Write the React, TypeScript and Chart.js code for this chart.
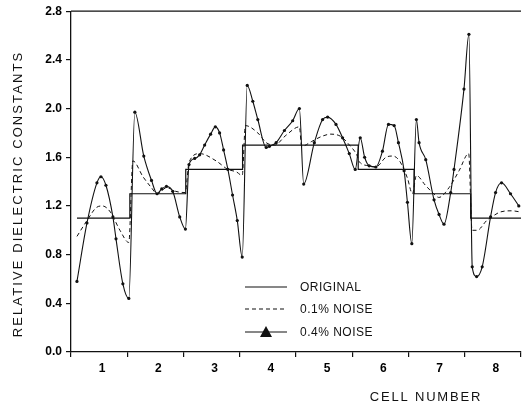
import { useEffect, useRef } from 'react';
import { Chart, registerables } from 'chart.js';

Chart.register(...registerables);

// ---- data ----
const cellLabels = ['1', '2', '3', '4', '5', '6', '7', '8'];
const cellBounds = [0.106, 1.046, 2.04, 3.05, 4.06, 5.106, 6.1, 7.105, 8.0];
const originalValues = [1.1, 1.3, 1.5, 1.7, 1.7, 1.5, 1.3, 1.1];

const noise01X = [
  0.106, 0.284, 0.461, 0.56, 0.7, 0.87, 1.028,
  1.1, 1.28, 1.43, 1.53, 1.7, 1.86, 2.03,
  2.1, 2.29, 2.58, 2.79, 2.94, 3.044,
  3.1, 3.321, 3.47, 3.62, 3.82, 4.06,
  4.1, 4.28, 4.45, 4.62, 4.8, 4.95, 5.08,
  5.13, 5.3, 5.42, 5.6, 5.72, 5.84, 5.98, 6.07,
  6.14, 6.3, 6.45, 6.54, 6.72, 6.9, 7.07,
  7.13, 7.22, 7.39, 7.48, 7.63, 7.83, 8.0,
];
const noise01Y = [
  0.95, 1.08, 1.19, 1.2, 1.15, 1.0, 0.9,
  1.57, 1.44, 1.35, 1.3, 1.35, 1.32, 1.31,
  1.56, 1.63, 1.57, 1.5, 1.48, 1.45,
  1.86, 1.8, 1.72, 1.7, 1.78, 1.85,
  1.69, 1.73, 1.77, 1.79, 1.77, 1.7, 1.62,
  1.56, 1.53, 1.52, 1.6, 1.61, 1.57, 1.43, 1.3,
  1.45, 1.37, 1.3, 1.27, 1.35, 1.49, 1.63,
  1.0, 1.0, 1.08, 1.11, 1.15, 1.16, 1.15,
];

const noise04X = [
  0.106, 0.284, 0.461, 0.532, 0.621, 0.745, 0.8, 0.922, 1.028,
  1.135, 1.294, 1.431, 1.53, 1.613, 1.697, 1.809, 1.933, 2.034,
  2.098, 2.199, 2.287, 2.376, 2.482, 2.566, 2.642, 2.713, 2.789, 2.872, 2.956, 3.044,
  3.133, 3.232, 3.321, 3.47, 3.528, 3.647, 3.794, 3.941, 4.06,
  4.137, 4.326, 4.473, 4.562, 4.711, 4.828, 4.947, 5.053,
  5.142, 5.22, 5.301, 5.42, 5.537, 5.644, 5.745, 5.821, 5.922, 5.981, 6.059,
  6.14, 6.188, 6.307, 6.454, 6.543, 6.631, 6.75, 6.809, 6.986, 7.074,
  7.133, 7.211, 7.31, 7.459, 7.548, 7.654, 7.814, 7.961,
];
const noise04Y = [
  0.58, 1.06, 1.39, 1.44, 1.37, 1.11, 0.93, 0.56, 0.44,
  1.97, 1.61, 1.41, 1.3, 1.34, 1.36, 1.32, 1.11, 1.01,
  1.54, 1.59, 1.62, 1.7, 1.79, 1.85, 1.8, 1.66, 1.5, 1.29, 1.08, 0.78,
  2.19, 2.06, 1.91, 1.68, 1.69, 1.72, 1.82, 1.9, 2.0,
  1.38, 1.72, 1.91, 1.93, 1.87, 1.76, 1.63, 1.5,
  1.76, 1.6, 1.53, 1.52, 1.65, 1.87, 1.86, 1.72, 1.49, 1.23, 0.89,
  1.91, 1.72, 1.58, 1.25, 1.13, 1.05, 1.31, 1.5, 2.16, 2.61,
  0.7, 0.62, 0.7, 1.11, 1.31, 1.39, 1.3, 1.2,
];

const yTicks = [0, 0.4, 0.8, 1.2, 1.6, 2.0, 2.4, 2.8];
const seriesLabels = ['ORIGINAL', '0.1% NOISE', '0.4% NOISE'];
const xTitle = 'CELL NUMBER';
const yTitle = 'RELATIVE DIELECTRIC CONSTANTS';

const INK = '#111';
const FONT = '"Liberation Sans", Arial, sans-serif';

const overlayPlugin = {
  id: 'overlay',
  afterDraw(chart: any) {
    const { ctx, chartArea } = chart;
    const { left, right, top, bottom } = chartArea;
    ctx.save();
    // top frame line
    ctx.strokeStyle = INK;
    ctx.lineWidth = 1.3;
    ctx.beginPath();
    ctx.moveTo(left, top);
    ctx.lineTo(right, top);
    ctx.stroke();

    // legend
    const rows = [bottom - 65, bottom - 43, bottom - 20];
    const x0 = left + 174;
    const x1 = left + 216;
    const tx = left + 229;
    ctx.font = `12px ${FONT}`;
    ctx.fillStyle = INK;
    ctx.textBaseline = 'middle';
    ctx.textAlign = 'left';
    (ctx as any).letterSpacing = '0.5px';
    rows.forEach((ry, i) => {
      ctx.beginPath();
      ctx.lineWidth = 1.1;
      ctx.setLineDash(i === 1 ? [4, 3] : []);
      ctx.moveTo(x0, ry);
      ctx.lineTo(x1, ry);
      ctx.stroke();
      ctx.setLineDash([]);
      if (i === 2) {
        const cx = (x0 + x1) / 2;
        ctx.beginPath();
        ctx.moveTo(cx, ry - 6);
        ctx.lineTo(cx + 6, ry + 5);
        ctx.lineTo(cx - 6, ry + 5);
        ctx.closePath();
        ctx.fill();
      }
      ctx.fillText(seriesLabels[i], tx, ry + 1);
    });

    // axis titles
    ctx.font = `13px ${FONT}`;
    (ctx as any).letterSpacing = '1.8px';
    ctx.textAlign = 'center';
    ctx.fillText(xTitle, left + 355, bottom + 45);
    ctx.save();
    ctx.translate(18, 194);
    ctx.rotate(-Math.PI / 2);
    (ctx as any).letterSpacing = '2.1px';
    ctx.fillText(yTitle, 0, 0);
    ctx.restore();
    ctx.restore();
  },
};

export default function App() {
  const canvasRef = useRef<HTMLCanvasElement | null>(null);

  useEffect(() => {
    if (!canvasRef.current) return;
    const originalPts: { x: number; y: number }[] = [];
    originalValues.forEach((v, i) => {
      originalPts.push({ x: cellBounds[i], y: v });
      originalPts.push({ x: cellBounds[i + 1], y: v });
    });
    const n01 = noise01X.map((x, i) => ({ x, y: noise01Y[i] }));
    const n04 = noise04X.map((x, i) => ({ x, y: noise04Y[i] }));

    const xTickValues: number[] = [];
    for (let i = 0; i <= 16; i++) xTickValues.push(i / 2);

    const chart = new Chart(canvasRef.current, {
      type: 'line',
      data: {
        datasets: [
          {
            label: seriesLabels[0],
            data: originalPts,
            borderColor: INK,
            borderWidth: 1.2,
            pointRadius: 0,
            tension: 0,
          },
          {
            label: seriesLabels[1],
            data: n01,
            borderColor: INK,
            borderWidth: 1,
            borderDash: [4, 3],
            pointRadius: 0,
            cubicInterpolationMode: 'monotone',
          },
          {
            label: seriesLabels[2],
            data: n04,
            borderColor: INK,
            borderWidth: 1.1,
            pointRadius: 1.6,
            pointBackgroundColor: INK,
            pointBorderWidth: 0,
            cubicInterpolationMode: 'monotone',
          },
        ],
      },
      options: {
        animation: false,
        responsive: true,
        maintainAspectRatio: false,
        layout: { padding: { top: 10, right: 3, left: 0, bottom: 0 } },
        plugins: { legend: { display: false }, tooltip: { enabled: false } },
        scales: {
          x: {
            type: 'linear',
            min: 0,
            max: 8,
            afterFit: (s: any) => {
              s.height = 56;
            },
            afterBuildTicks: (s: any) => {
              s.ticks = xTickValues.map((v) => ({ value: v }));
            },
            ticks: {
              autoSkip: false,
              maxRotation: 0,
              padding: 4,
              labelOffset: 3,
              color: '#000',
              font: { family: FONT, size: 12, weight: 'bold' },
              callback: (v: any) => {
                const n = Number(v);
                if (Math.abs(n % 1 - 0.5) < 1e-6) return cellLabels[Math.floor(n)];
                return '';
              },
            },
            grid: {
              drawOnChartArea: false,
              drawTicks: true,
              tickLength: 5,
              lineWidth: 1.2,
              color: (c: any) =>
                c.tick && Math.abs(c.tick.value % 1) < 1e-6 ? INK : 'rgba(0,0,0,0)',
            },
            border: { display: true, color: INK, width: 1.3 },
          },
          y: {
            min: 0,
            max: 2.8,
            afterFit: (s: any) => {
              s.width = 71;
            },
            afterBuildTicks: (s: any) => {
              s.ticks = yTicks.map((v) => ({ value: v }));
            },
            ticks: {
              padding: 4,
              color: '#000',
              font: { family: FONT, size: 12, weight: 'bold' },
              callback: (v: any) => Number(v).toFixed(1),
            },
            grid: {
              drawOnChartArea: false,
              drawTicks: true,
              tickLength: 5,
              lineWidth: 1.2,
              color: INK,
            },
            border: { display: true, color: INK, width: 1.3 },
          },
        },
      },
      plugins: [overlayPlugin],
    } as any);
    return () => chart.destroy();
  }, []);

  return (
    <div style={{ position: 'fixed', left: 0, top: 0, width: 525, height: 408, background: '#fff' }}>
      <canvas ref={canvasRef} />
    </div>
  );
}
